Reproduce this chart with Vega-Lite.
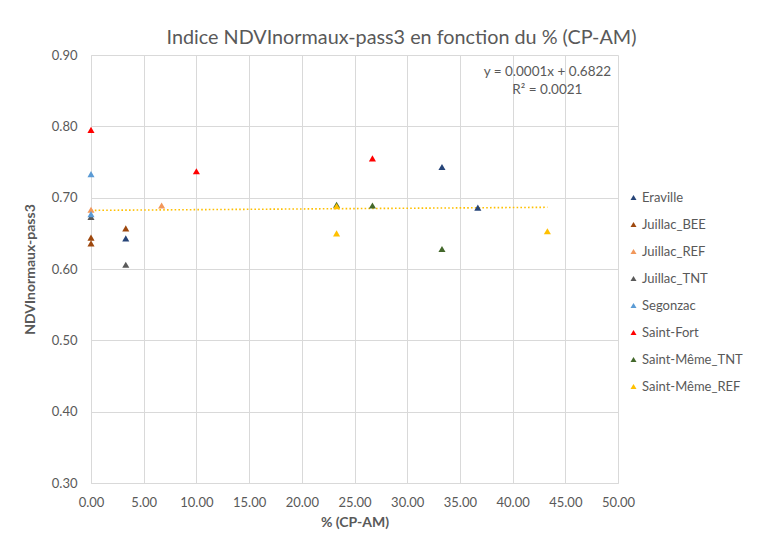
{
  "$schema": "https://vega.github.io/schema/vega-lite/v6.json",
  "width": 527,
  "height": 428,
  "autosize": "none",
  "padding": {"left": 91, "top": 55, "right": 159, "bottom": 52},
  "background": "#ffffff",
  "title": {
    "text": "Indice NDVInormaux-pass3 en fonction du % (CP-AM)",
    "fontSize": 19.8,
    "fontWeight": "normal",
    "color": "#595959",
    "anchor": "middle",
    "dx": 47,
    "offset": 1
  },
  "config": {
    "font": "Lato",
    "view": {"stroke": null},
    "axis": {
      "gridColor": "#D9D9D9",
      "gridWidth": 1,
      "domainColor": "#D9D9D9",
      "ticks": false,
      "labelFlush": false,
      "labelColor": "#595959",
      "labelFontSize": 13,
      "titleColor": "#595959",
      "titleFontSize": 14,
      "titleFontWeight": "bold"
    }
  },
  "datasets": {
    "sites": [
      {"site": "Eraville", "cpam": 3.3, "ndvi": 0.643},
      {"site": "Eraville", "cpam": 33.3, "ndvi": 0.743},
      {"site": "Eraville", "cpam": 36.7, "ndvi": 0.686},
      {"site": "Juillac_BEE", "cpam": 0.0, "ndvi": 0.644},
      {"site": "Juillac_BEE", "cpam": 0.0, "ndvi": 0.636},
      {"site": "Juillac_BEE", "cpam": 3.3, "ndvi": 0.657},
      {"site": "Juillac_REF", "cpam": 0.0, "ndvi": 0.683},
      {"site": "Juillac_REF", "cpam": 6.7, "ndvi": 0.689},
      {"site": "Juillac_TNT", "cpam": 0.0, "ndvi": 0.673},
      {"site": "Juillac_TNT", "cpam": 3.3, "ndvi": 0.606},
      {"site": "Segonzac", "cpam": 0.0, "ndvi": 0.733},
      {"site": "Segonzac", "cpam": 0.0, "ndvi": 0.677},
      {"site": "Saint-Fort", "cpam": 0.0, "ndvi": 0.795},
      {"site": "Saint-Fort", "cpam": 10.0, "ndvi": 0.737},
      {"site": "Saint-Fort", "cpam": 26.7, "ndvi": 0.755},
      {"site": "Saint-Même_TNT", "cpam": 23.3, "ndvi": 0.690},
      {"site": "Saint-Même_TNT", "cpam": 26.7, "ndvi": 0.689},
      {"site": "Saint-Même_TNT", "cpam": 33.3, "ndvi": 0.628},
      {"site": "Saint-Même_REF", "cpam": 23.3, "ndvi": 0.688},
      {"site": "Saint-Même_REF", "cpam": 23.3, "ndvi": 0.650},
      {"site": "Saint-Même_REF", "cpam": 43.3, "ndvi": 0.653}
    ],
    "trend": [
      {"cpam": 0.0, "ndvi": 0.6822},
      {"cpam": 43.3, "ndvi": 0.6865}
    ]
  },
  "layer": [
    {
      "data": {"name": "trend"},
      "mark": {"type": "line", "color": "#FFC000", "strokeWidth": 1.6, "strokeDash": [1.6, 2.2]},
      "encoding": {
        "x": {
          "field": "cpam",
          "type": "quantitative",
          "scale": {"domain": [0, 50], "nice": false},
          "axis": {"title": "% (CP-AM)", "format": ".2f", "values": [0, 5, 10, 15, 20, 25, 30, 35, 40, 45, 50], "labelPadding": 13, "titlePadding": 6}
        },
        "y": {
          "field": "ndvi",
          "type": "quantitative",
          "scale": {"domain": [0.3, 0.9], "nice": false, "zero": false},
          "axis": {"title": "NDVInormaux-pass3", "format": ".2f", "values": [0.3, 0.4, 0.5, 0.6, 0.7, 0.8, 0.9], "labelPadding": 14, "titlePadding": 14}
        }
      }
    },
    {
      "data": {"name": "sites"},
      "mark": {"type": "point", "shape": "triangle-up", "filled": true, "opacity": 1, "size": 50},
      "encoding": {
        "x": {"field": "cpam", "type": "quantitative"},
        "y": {"field": "ndvi", "type": "quantitative"},
        "color": {
          "field": "site",
          "type": "nominal",
          "sort": ["Eraville", "Juillac_BEE", "Juillac_REF", "Juillac_TNT", "Segonzac", "Saint-Fort", "Saint-Même_TNT", "Saint-Même_REF"],
          "scale": {
            "domain": ["Eraville", "Juillac_BEE", "Juillac_REF", "Juillac_TNT", "Segonzac", "Saint-Fort", "Saint-Même_TNT", "Saint-Même_REF"],
            "range": ["#264478", "#9E480E", "#F1975A", "#595959", "#5B9BD5", "#FF0000", "#43682B", "#FFC000"]
          },
          "legend": {
            "title": null,
            "orient": "none",
            "legendX": 536,
            "legendY": 136,
            "symbolType": "triangle-up",
            "symbolSize": 36,
            "symbolOpacity": 1,
            "labelFontSize": 13,
            "labelColor": "#595959",
            "labelOffset": 2,
            "rowPadding": 13
          }
        }
      }
    },
    {
      "data": {"values": [{}]},
      "mark": {"type": "text", "align": "center", "baseline": "middle", "fontSize": 13.5, "color": "#595959", "lineHeight": 18},
      "encoding": {
        "x": {"datum": 43.3, "type": "quantitative"},
        "y": {"datum": 0.8765, "type": "quantitative"},
        "text": {"value": ["y = 0.0001x + 0.6822", "R² = 0.0021"]}
      }
    }
  ]
}
